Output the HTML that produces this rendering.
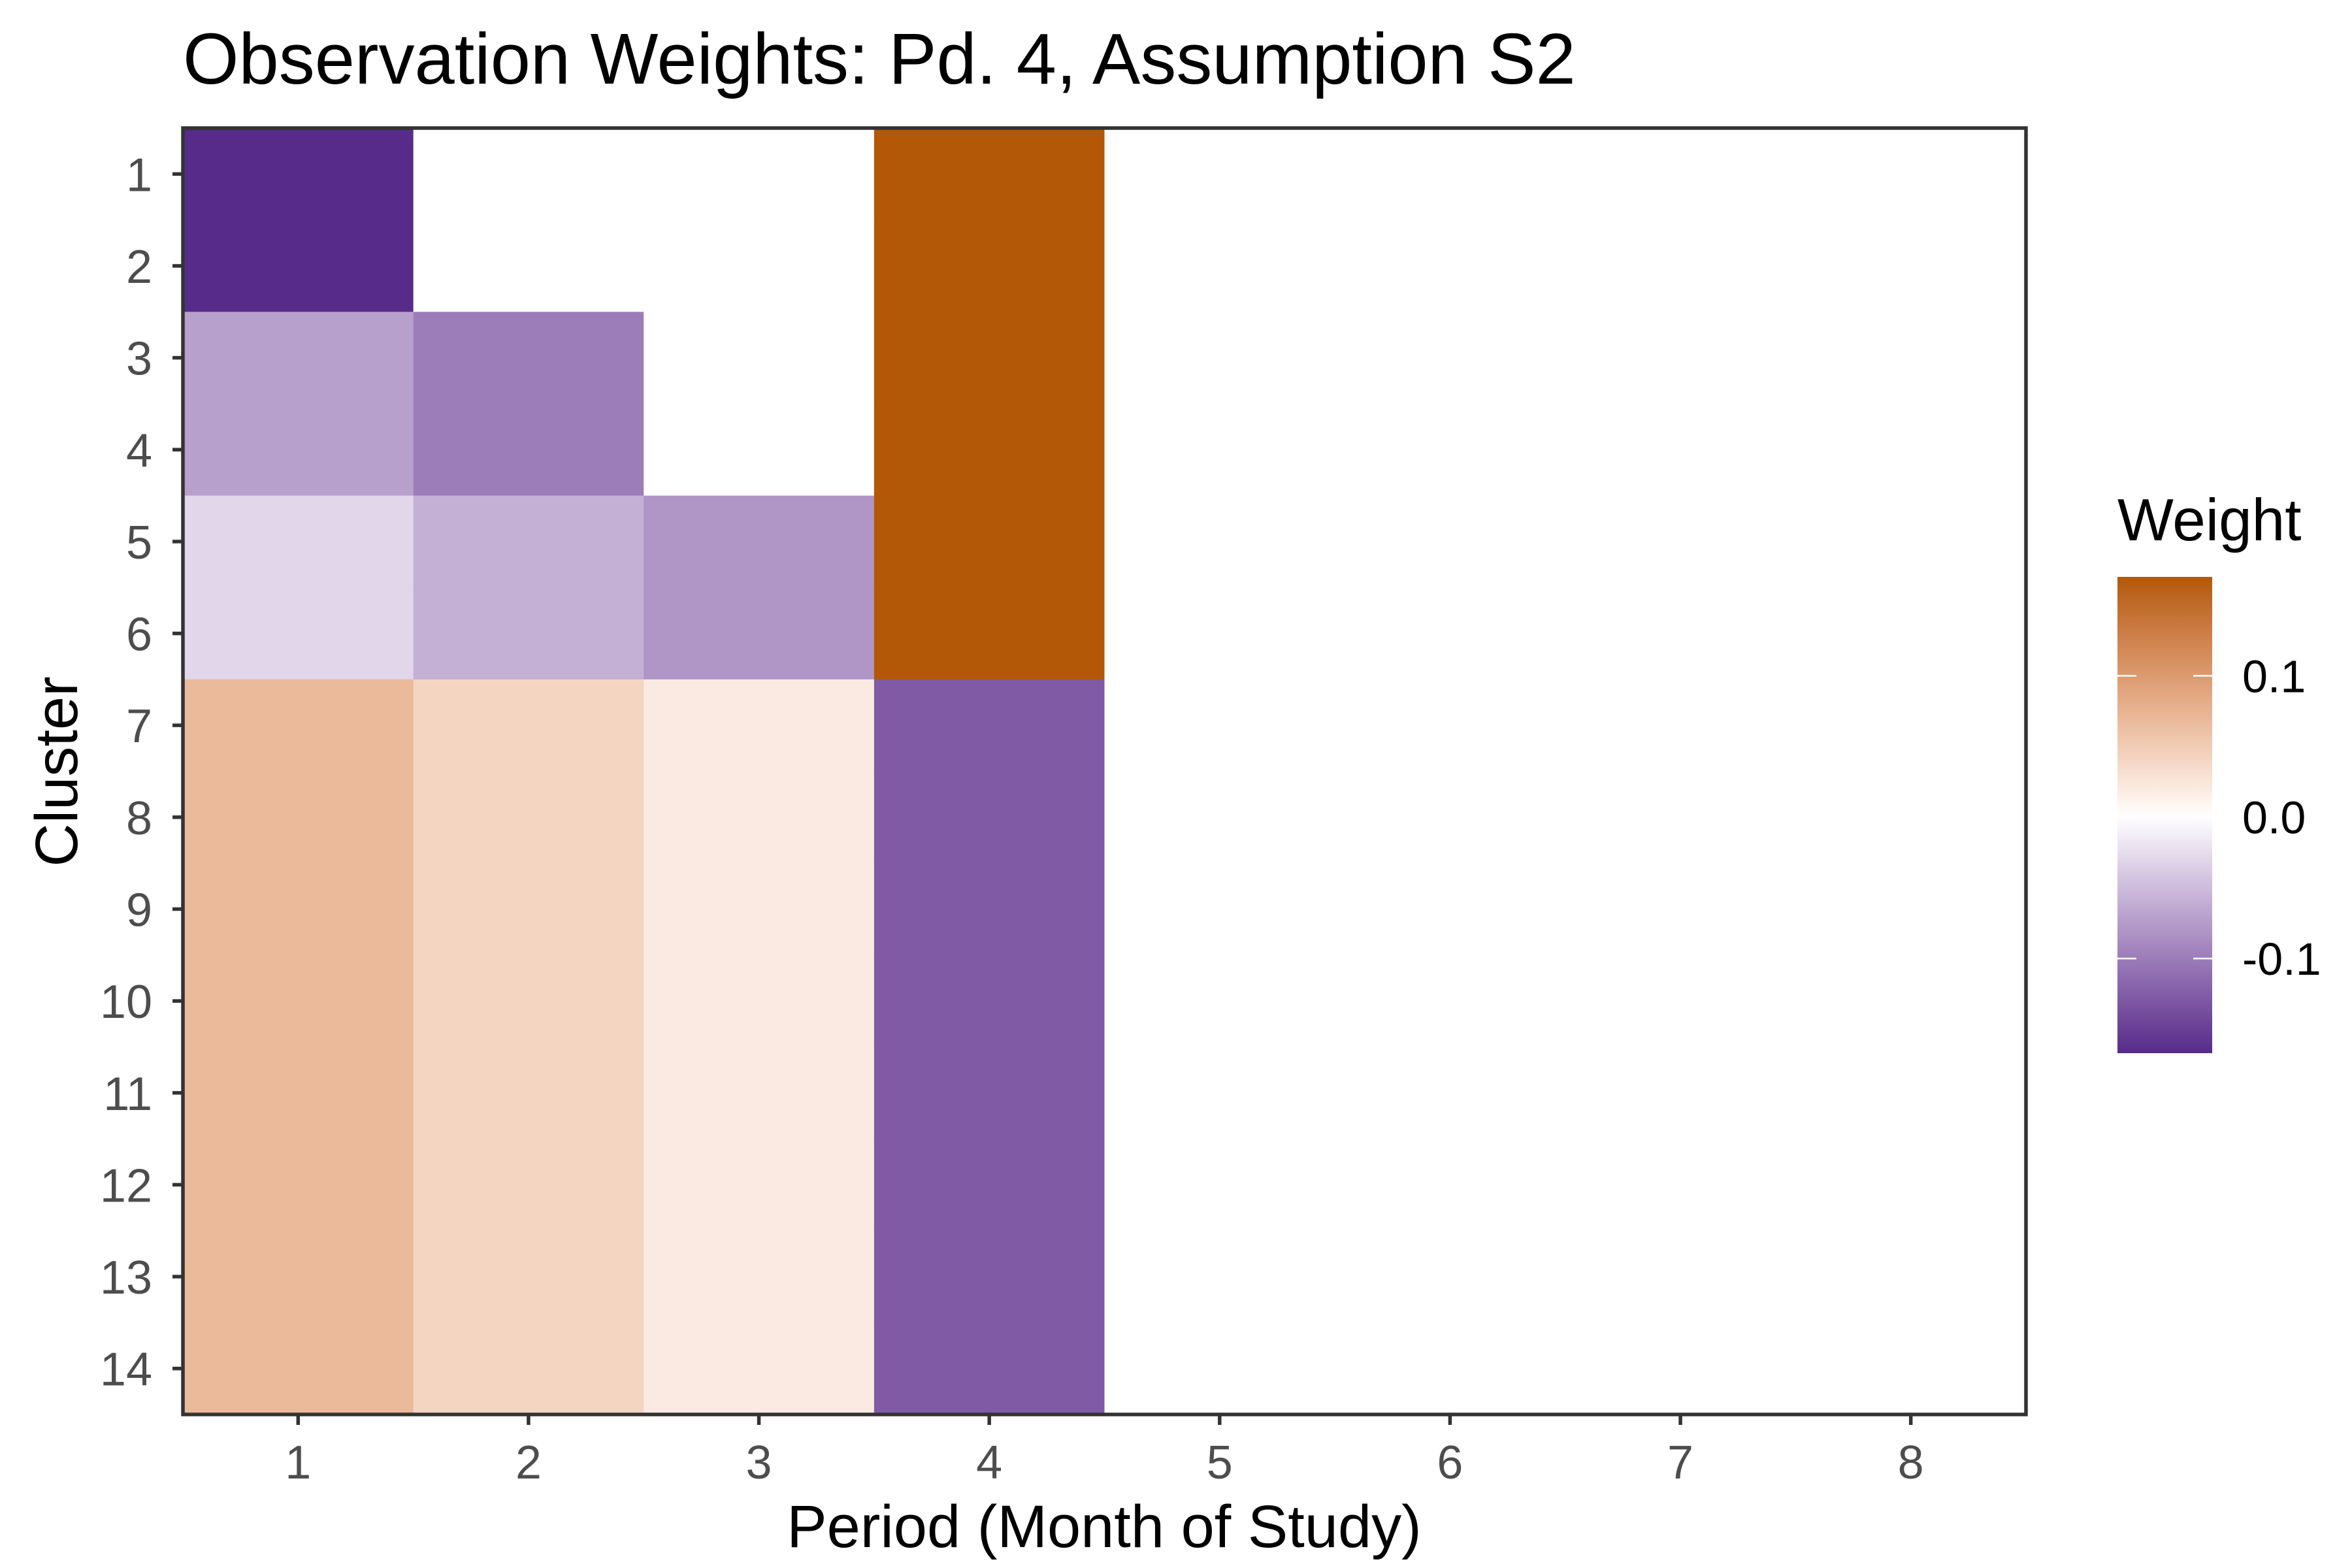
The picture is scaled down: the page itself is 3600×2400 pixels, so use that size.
<!DOCTYPE html>
<html><head><meta charset="utf-8">
<style>
html,body{margin:0;padding:0;background:#fff;}
svg{display:block;font-family:"Liberation Sans",Arial,sans-serif;}
</style></head>
<body>
<svg id="chart" width="3600" height="2400" viewBox="0 0 3600 2400" xmlns="http://www.w3.org/2000/svg">
<rect width="3600" height="2400" fill="#fff"/>
<text x="280" y="128" font-size="110" fill="#000">Observation Weights: Pd. 4, Assumption S2</text>
<g id="cells"></g>
<rect x="280" y="196" width="2821" height="1969" fill="none" stroke="#333" stroke-width="5.5"/>
<g id="xaxis"></g>
<g id="yaxis"></g>
<text x="1690" y="2368" font-size="92" text-anchor="middle" fill="#000">Period (Month of Study)</text>
<text transform="translate(118,1181) rotate(-90)" font-size="92" text-anchor="middle" fill="#000">Cluster</text>
<text x="3241" y="827" font-size="91" fill="#000">Weight</text>
<defs><linearGradient id="lg" x1="0" y1="1" x2="0" y2="0"></linearGradient></defs>
<g id="legend"></g>
</svg>
<script>
const periods = [1,2,3,4,5,6,7,8];
const clusters = [1,2,3,4,5,6,7,8,9,10,11,12,13,14];
// weights per period (column), listed by cluster 1..14
const period1 = [-0.167,-0.167,-0.072,-0.072,-0.030,-0.030,0.068,0.068,0.068,0.068,0.068,0.068,0.068,0.068];
const period2 = [0,0,-0.099,-0.099,-0.060,-0.060,0.041,0.041,0.041,0.041,0.041,0.041,0.041,0.041];
const period3 = [0,0,0,0,-0.080,-0.080,0.020,0.020,0.020,0.020,0.020,0.020,0.020,0.020];
const period4 = [0.170,0.170,0.170,0.170,0.170,0.170,-0.128,-0.128,-0.128,-0.128,-0.128,-0.128,-0.128,-0.128];
const period5 = [0,0,0,0,0,0,0,0,0,0,0,0,0,0];
const period6 = [0,0,0,0,0,0,0,0,0,0,0,0,0,0];
const period7 = [0,0,0,0,0,0,0,0,0,0,0,0,0,0];
const period8 = [0,0,0,0,0,0,0,0,0,0,0,0,0,0];
const weights = [period1,period2,period3,period4,period5,period6,period7,period8];
const legendTicks = [0.1, 0.0, -0.1];
const legendLabels = ["0.1","0.0","-0.1"];

const NS = "http://www.w3.org/2000/svg";
const PX0=280, PX1=3101, PY0=196, PY1=2165;
const colW=(PX1-PX0)/periods.length, rowH=(PY1-PY0)/clusters.length;
function xPos(p){return PX0+(p-0.5)*colW;}
function yPos(c){return PY0+(c-0.5)*rowH;}

function toLin(c){c/=255;return c<=0.04045?c/12.92:Math.pow((c+0.055)/1.055,2.4);}
function fromLin(c){c=c<=0.0031308?12.92*c:1.055*Math.pow(c,1/2.4)-0.055;return Math.max(0,Math.min(255,Math.round(c*255)));}
function hex2lab(h){const r=toLin(parseInt(h.substr(1,2),16)),g=toLin(parseInt(h.substr(3,2),16)),b=toLin(parseInt(h.substr(5,2),16));
 let X=(0.4124*r+0.3576*g+0.1805*b)/0.95047,Y=0.2126*r+0.7152*g+0.0722*b,Z=(0.0193*r+0.1192*g+0.9505*b)/1.08883;
 const f=t=>t>0.008856?Math.cbrt(t):7.787*t+16/116;X=f(X);Y=f(Y);Z=f(Z);return [116*Y-16,500*(X-Y),200*(Y-Z)];}
function lab2hex(L){let Y=(L[0]+16)/116,X=L[1]/500+Y,Z=Y-L[2]/200;const fi=t=>t*t*t>0.008856?t*t*t:(t-16/116)/7.787;
 X=fi(X)*0.95047;Y=fi(Y);Z=fi(Z)*1.08883;
 const r=3.2406*X-1.5372*Y-0.4986*Z,g=-0.9689*X+1.8758*Y+0.0415*Z,b=0.0557*X-0.2040*Y+1.0570*Z;
 return "#"+[r,g,b].map(v=>fromLin(v).toString(16).padStart(2,"0")).join("");}
const LOW=hex2lab("#542788"), MID=hex2lab("#ffffff"), HIGH=hex2lab("#b35806");
const allVals=weights.flat();
const vmin=Math.min(...allVals), vmax=Math.max(...allVals);
const ext=Math.max(Math.abs(vmin),Math.abs(vmax));
function color(v){const t=Math.min(1,Math.abs(v)/ext);const E=v<0?LOW:HIGH;
 return lab2hex([0,1,2].map(i=>MID[i]+(E[i]-MID[i])*t));}

const cells=document.getElementById("cells");
weights.forEach((col,pi)=>{col.forEach((v,ci)=>{
 const r=document.createElementNS(NS,"rect");
 r.setAttribute("x",(xPos(periods[pi])-colW/2).toFixed(2));
 r.setAttribute("y",(yPos(clusters[ci])-rowH/2).toFixed(2));
 r.setAttribute("width",(colW+0.6).toFixed(2));
 r.setAttribute("height",(rowH+0.6).toFixed(2));
 r.setAttribute("fill",color(v));
 
 
 cells.appendChild(r);});});

const xa=document.getElementById("xaxis");
periods.forEach(p=>{const x=xPos(p);
 const l=document.createElementNS(NS,"line");
 l.setAttribute("x1",x);l.setAttribute("x2",x);l.setAttribute("y1",PY1);l.setAttribute("y2",PY1+16);
 l.setAttribute("stroke","#333");l.setAttribute("stroke-width","5.5");
 
 
 xa.appendChild(l);
 const t=document.createElementNS(NS,"text");
 t.setAttribute("x",x);t.setAttribute("y",PY1+98);t.setAttribute("font-size","72");
 t.setAttribute("text-anchor","middle");t.setAttribute("fill","#4d4d4d");t.textContent=p;
 
 
 xa.appendChild(t);});

const ya=document.getElementById("yaxis");
clusters.forEach(c=>{const y=yPos(c);
 const l=document.createElementNS(NS,"line");
 l.setAttribute("x1",PX0-16);l.setAttribute("x2",PX0);l.setAttribute("y1",y);l.setAttribute("y2",y);
 l.setAttribute("stroke","#333");l.setAttribute("stroke-width","5.5");
 
 
 ya.appendChild(l);
 const t=document.createElementNS(NS,"text");
 t.setAttribute("x",PX0-47);t.setAttribute("y",y+26);t.setAttribute("font-size","72");
 t.setAttribute("text-anchor","end");t.setAttribute("fill","#4d4d4d");t.textContent=c;
 
 
 ya.appendChild(t);});

const LX=3241, LW=145, LY0=883, LY1=1612;
const lg=document.getElementById("lg");
for(let i=0;i<=40;i++){const v=vmin+(vmax-vmin)*i/40;
 const s=document.createElementNS(NS,"stop");s.setAttribute("offset",(i/40).toFixed(3));s.setAttribute("stop-color",color(v));lg.appendChild(s);}
function ly(v){return LY1-(v-vmin)/(vmax-vmin)*(LY1-LY0);}
const leg=document.getElementById("legend");
const bar=document.createElementNS(NS,"rect");
bar.setAttribute("x",LX);bar.setAttribute("y",LY0);bar.setAttribute("width",LW);bar.setAttribute("height",LY1-LY0);bar.setAttribute("fill","url(#lg)");


leg.appendChild(bar);
legendTicks.forEach((v,i)=>{const y=ly(v);
 [[LX,LX+29],[LX+LW-29,LX+LW]].forEach(seg=>{const l=document.createElementNS(NS,"line");
  l.setAttribute("x1",seg[0]);l.setAttribute("x2",seg[1]);l.setAttribute("y1",y);l.setAttribute("y2",y);
  l.setAttribute("stroke","#fff");l.setAttribute("stroke-width","2.5");
  
  
  leg.appendChild(l);});
 const t=document.createElementNS(NS,"text");
 t.setAttribute("x",LX+191);t.setAttribute("y",y+25);t.setAttribute("font-size","70");t.setAttribute("fill","#000");
 t.textContent=legendLabels[i];
 
 
 leg.appendChild(t);});
</script>
</body></html>
